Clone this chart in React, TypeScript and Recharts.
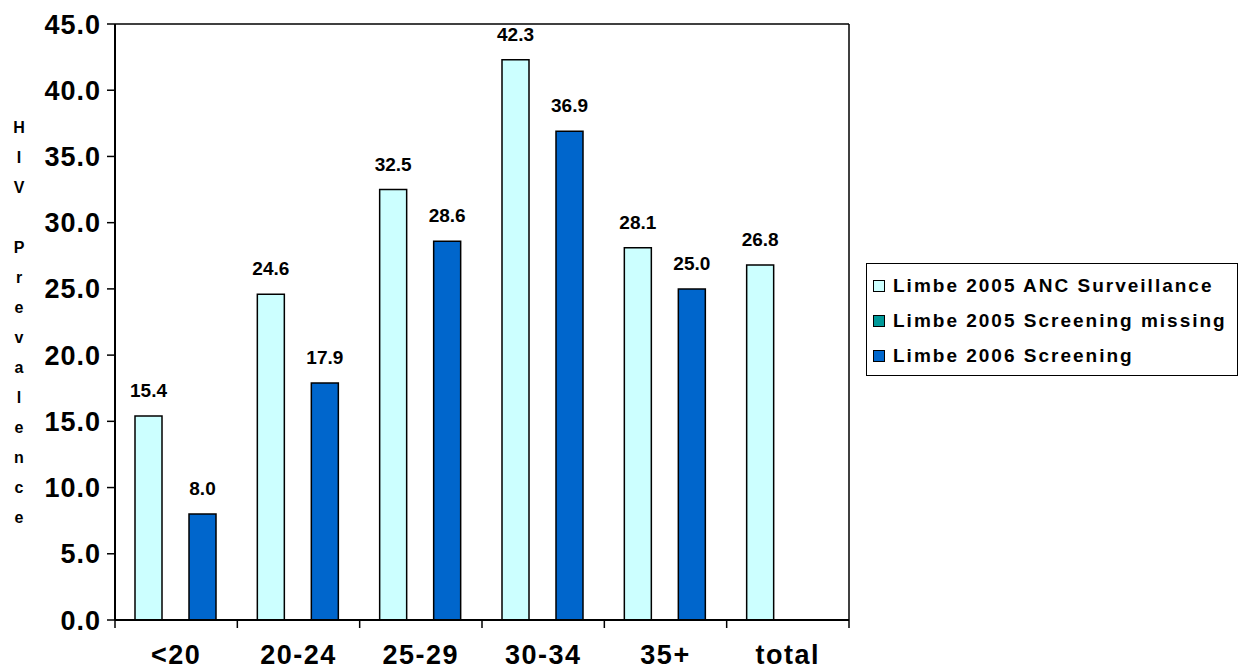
import React from 'react';
import { BarChart, Bar, XAxis, YAxis, LabelList, CartesianGrid } from 'recharts';

const categories = ['<20', '20-24', '25-29', '30-34', '35+', 'total'];
const anc2005 = [15.4, 24.6, 32.5, 42.3, 28.1, 26.8];
const screening2005: (number | null)[] = [null, null, null, null, null, null];
const screening2006: (number | null)[] = [8.0, 17.9, 28.6, 36.9, 25.0, null];
const yTicks = [0, 5, 10, 15, 20, 25, 30, 35, 40, 45];
const yLabel = ['H', 'I', 'V', '', 'P', 'r', 'e', 'v', 'a', 'l', 'e', 'n', 'c', 'e'];

const series = [
  { key: 'anc2005', name: 'Limbe 2005 ANC Surveillance', color: '#CCFFFF' },
  { key: 'screening2005', name: 'Limbe 2005 Screening missing', color: '#009999' },
  { key: 'screening2006', name: 'Limbe 2006 Screening', color: '#0066CC' },
];

const data = categories.map((c, i) => ({
  cat: c,
  anc2005: anc2005[i],
  screening2005: screening2005[i],
  screening2006: screening2006[i],
}));

const FONT = 'Arial, "Liberation Sans", sans-serif';
const TICK_SIZE = 8;
const TICK_MARGIN = 17;
const PLOT_W = 734;

const fmt = (v: any) => (v === null || v === undefined ? '' : Number(v).toFixed(1));

// stacked vertical axis title
const VerticalTitle = (props: any) => {
  const vb = props.viewBox || {};
  const cy = vb.y + vb.height / 2;
  const step = 30;
  const start = cy - ((yLabel.length - 1) / 2) * step;
  return (
    <text x={19} textAnchor="middle" fontFamily={FONT} fontWeight="bold" fontSize={16} fill="#000">
      {yLabel.map((ch, i) => (
        <tspan key={i} x={19} y={start + i * step} dy="0.35em">
          {ch}
        </tspan>
      ))}
    </text>
  );
};

// category label with tick marks on the category boundaries
const CatTick = (props: any) => {
  const { x, y, payload, index } = props;
  const half = PLOT_W / categories.length / 2;
  const axisY = y - TICK_SIZE - TICK_MARGIN;
  return (
    <g>
      <line x1={x - half} y1={axisY} x2={x - half} y2={axisY + TICK_SIZE} stroke="#000" strokeWidth={1.5} />
      {index === categories.length - 1 && (
        <line x1={x + half} y1={axisY} x2={x + half} y2={axisY + TICK_SIZE} stroke="#000" strokeWidth={1.5} />
      )}
      <text
        x={x}
        y={y}
        dy="0.71em"
        textAnchor="middle"
        fontFamily={FONT}
        fontWeight="bold"
        fontSize={27}
        letterSpacing={1.5}
        fill="#000"
      >
        {payload.value}
      </text>
    </g>
  );
};

const Legendbox = () => (
  <div
    style={{
      position: 'absolute',
      left: 866,
      top: 263,
      width: 372,
      height: 113,
      border: '1.5px solid #000',
      background: '#fff',
      fontFamily: FONT,
      fontWeight: 'bold',
      fontSize: 19,
      letterSpacing: 2,
      boxSizing: 'border-box',
    }}
  >
    {series.map((s, i) => (
      <div
        key={s.key}
        style={{ position: 'absolute', left: 6, top: 10 + i * 35, height: 24, display: 'flex', alignItems: 'center' }}
      >
        <span
          style={{
            display: 'inline-block',
            width: 10,
            height: 10,
            background: s.color,
            border: '1px solid #000',
            marginRight: 8,
          }}
        />
        <span>{s.name}</span>
      </div>
    ))}
  </div>
);

export default function App() {
  return (
    <div style={{ position: 'absolute', left: 0, top: 0, width: 1241, height: 670, background: '#fff' }}>
      <BarChart
        width={1241}
        height={670}
        data={data}
        margin={{ top: 24, right: 392, left: 0, bottom: 0 }}
        barCategoryGap={20}
        barGap={0}
      >
        <CartesianGrid
          stroke="#000"
          strokeWidth={1.5}
          horizontalCoordinatesGenerator={({ offset }: any) => [offset.top]}
          verticalCoordinatesGenerator={({ offset }: any) => [offset.left + offset.width]}
        />
        <XAxis
          dataKey="cat"
          height={50}
          tickLine={false}
          axisLine={{ stroke: '#000', strokeWidth: 2 }}
          tickSize={TICK_SIZE}
          tickMargin={TICK_MARGIN}
          interval={0}
          tick={<CatTick />}
        />
        <YAxis
          width={115}
          domain={[0, 45]}
          ticks={yTicks}
          interval={0}
          tickFormatter={(v: number) => v.toFixed(1)}
          axisLine={{ stroke: '#000', strokeWidth: 2 }}
          tickLine={{ stroke: '#000', strokeWidth: 1.5 }}
          tickSize={8}
          tickMargin={6}
          tick={{ fill: '#000', fontFamily: FONT, fontWeight: 'bold', fontSize: 27, letterSpacing: 1 }}
          label={<VerticalTitle />}
        />
        {series.map((s) => (
          <Bar
            key={s.key}
            dataKey={s.key}
            name={s.name}
            fill={s.color}
            stroke="#000"
            strokeWidth={1.5}
            isAnimationActive={false}
          >
            <LabelList
              dataKey={s.key}
              position="top"
              offset={19}
              formatter={fmt}
              style={{ fill: '#000', fontFamily: FONT, fontWeight: 'bold', fontSize: 19 }}
            />
          </Bar>
        ))}
      </BarChart>
      <Legendbox />
    </div>
  );
}
